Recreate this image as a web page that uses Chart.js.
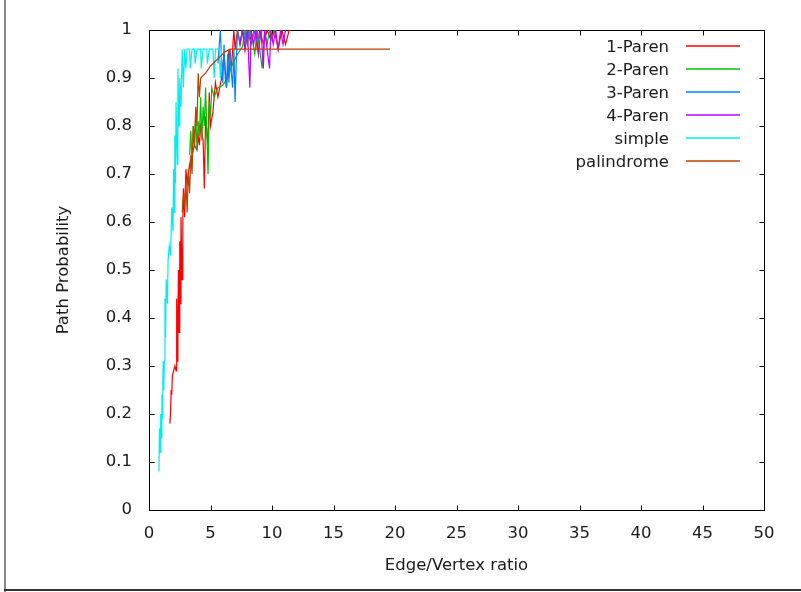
<!DOCTYPE html>
<html>
<head>
<meta charset="utf-8">
<title>Path Probability</title>
<script src="https://cdn.jsdelivr.net/npm/chart.js@4.4.1/dist/chart.umd.min.js"></script>
<style>
  html, body { margin: 0; padding: 0; background: #fff; }
  #wrap { position: relative; width: 801px; height: 592px; }
</style>
</head>
<body>
<div id="wrap"><canvas id="pathChart" width="801" height="592"></canvas></div>
<script>
// Path probability against edge/vertex ratio, one trace per grammar
const seriesNames = ['1-Paren', '2-Paren', '3-Paren', '4-Paren', 'simple', 'palindrome'];
const seriesColors = ['#ff0000', '#00c000', '#0080ff', '#c000ff', '#00eeee', '#c04000'];

// [edge/vertex ratio, probability]
const paren1 = [
  [1.7, 0.18], [1.75, 0.20], [1.8, 0.25], [1.85, 0.24], [1.9, 0.28], [2.0, 0.29], [2.1, 0.30],
  [2.2, 0.29], [2.25, 0.44], [2.3, 0.31], [2.35, 0.40], [2.4, 0.50], [2.45, 0.37], [2.5, 0.56],
  [2.55, 0.43], [2.6, 0.61], [2.7, 0.48], [2.75, 0.60], [2.8, 0.67], [2.9, 0.61], [3.0, 0.71],
  [3.1, 0.68], [3.3, 0.72], [3.5, 0.74], [3.7, 0.76], [3.9, 0.75], [4.0, 0.78], [4.1, 0.76],
  [4.2, 0.80], [4.4, 0.77], [4.5, 0.67], [4.6, 0.82], [4.8, 0.76], [4.9, 0.87], [5.0, 0.80],
  [5.2, 0.83], [5.4, 0.89], [5.6, 0.86], [5.9, 0.90], [6.1, 0.95], [6.3, 0.88], [6.5, 0.96],
  [6.7, 0.92], [6.9, 1.0], [7.0, 0.96], [7.2, 1.0], [7.4, 0.97], [7.6, 1.0], [7.8, 0.96],
  [8.0, 1.0], [8.3, 0.98], [8.6, 1.0], [8.8, 0.96], [9.0, 1.0], [9.3, 0.97], [9.6, 1.0],
  [9.9, 0.98], [10.2, 1.0], [10.5, 0.96], [10.8, 1.0], [11.1, 0.97], [11.4, 1.0], [11.6, 1.0]
];
const paren2 = [
  [3.3, 0.74], [3.4, 0.79], [3.5, 0.72], [3.6, 0.80], [3.7, 0.76], [3.8, 0.83], [3.9, 0.75],
  [4.0, 0.81], [4.1, 0.78], [4.2, 0.86], [4.3, 0.77], [4.4, 0.84], [4.5, 0.80], [4.6, 0.88],
  [4.7, 0.79], [4.8, 0.70], [4.9, 0.85], [5.0, 0.82], [5.1, 0.88], [5.3, 0.86], [5.6, 0.88],
  [6.0, 0.885], [6.4, 0.90], [6.8, 0.93], [7.2, 0.95], [7.6, 0.965], [7.8, 1.0], [8.0, 0.97],
  [8.2, 1.0], [8.4, 0.98], [8.6, 0.95], [8.8, 1.0], [9.0, 0.96], [9.2, 0.92], [9.4, 1.0],
  [9.6, 0.97], [9.8, 1.0], [10.0, 0.98], [10.2, 1.0]
];
const paren3 = [
  [5.6, 0.93], [5.8, 1.0], [5.9, 0.94], [6.0, 0.89], [6.1, 0.97], [6.2, 0.90], [6.3, 0.88],
  [6.4, 0.95], [6.5, 0.89], [6.6, 0.96], [6.7, 0.91], [6.8, 0.88], [6.9, 0.96], [7.0, 0.85],
  [7.1, 0.94], [7.2, 1.0], [7.4, 0.97], [7.6, 1.0], [7.8, 0.98], [8.0, 1.0], [8.3, 0.97],
  [8.6, 1.0], [8.9, 0.98], [9.2, 1.0]
];
const paren4 = [
  [7.4, 0.97], [7.6, 1.0], [7.8, 0.96], [8.0, 1.0], [8.2, 0.88], [8.3, 1.0], [8.5, 0.97],
  [8.7, 1.0], [8.9, 0.95], [9.1, 1.0], [9.3, 0.92], [9.4, 1.0], [9.6, 0.96], [9.8, 0.92],
  [9.9, 1.0], [10.1, 0.97], [10.3, 1.0], [10.5, 0.96], [10.7, 1.0], [10.9, 0.97], [11.1, 1.0]
];
const simple = [
  [0.81, 0.08], [0.85, 0.17], [0.9, 0.12], [0.95, 0.20], [1.0, 0.15], [1.05, 0.24], [1.1, 0.19],
  [1.15, 0.31], [1.2, 0.25], [1.25, 0.31], [1.3, 0.44], [1.35, 0.36], [1.4, 0.48], [1.5, 0.43],
  [1.55, 0.52], [1.65, 0.55], [1.75, 0.53], [1.85, 0.63], [1.95, 0.58], [2.0, 0.71], [2.05, 0.62],
  [2.1, 0.78], [2.15, 0.68], [2.2, 0.85], [2.3, 0.72], [2.35, 0.92], [2.45, 0.80], [2.5, 0.90],
  [2.6, 0.84], [2.7, 0.96], [2.8, 0.88], [2.9, 0.96], [3.0, 0.92], [3.1, 0.96], [3.3, 0.96],
  [3.35, 0.92], [3.5, 0.96], [3.7, 0.96], [3.75, 0.93], [3.9, 0.96], [4.2, 0.96], [4.25, 0.92],
  [4.4, 0.96], [4.7, 0.96], [4.75, 0.93], [4.9, 0.96], [5.2, 0.96], [5.3, 0.90], [5.4, 0.96],
  [5.7, 0.96], [5.8, 0.90], [5.9, 0.96]
];
const palindrome = [
  [2.7, 0.62], [2.8, 0.66], [2.9, 0.63], [3.0, 0.69], [3.1, 0.62], [3.2, 0.71], [3.3, 0.66],
  [3.4, 0.74], [3.5, 0.70], [3.6, 0.80], [3.7, 0.76], [3.8, 0.84], [3.9, 0.80], [4.0, 0.91],
  [4.1, 0.86], [4.2, 0.90], [4.6, 0.91], [5.0, 0.925], [5.4, 0.935], [5.8, 0.945], [6.2, 0.955],
  [6.6, 0.96], [19.6, 0.96]
];
const seriesData = [paren1, paren2, paren3, paren4, simple, palindrome];

const xTicks = [0, 5, 10, 15, 20, 25, 30, 35, 40, 45, 50];
const yTicks = [0, 0.1, 0.2, 0.3, 0.4, 0.5, 0.6, 0.7, 0.8, 0.9, 1];
const yTickLabels = ['0', '0.1', '0.2', '0.3', '0.4', '0.5', '0.6', '0.7', '0.8', '0.9', '1'];

const textColor = '#1a1a1a';
Chart.defaults.font.family = '"DejaVu Sans", sans-serif';
Chart.defaults.font.size = 16.5;
Chart.defaults.color = textColor;

// frame with inward ticks on all four sides, key at top right, page edge lines
const plotDecor = {
  id: 'plotDecor',
  beforeDatasetsDraw(chart) {
    const { ctx, chartArea: a, scales: { x, y } } = chart;
    const l = Math.round(a.left) + 0.5, r = Math.round(a.right) + 0.5;
    const t = Math.round(a.top) + 0.5, b = Math.round(a.bottom) + 0.5;
    ctx.save();
    ctx.strokeStyle = '#000';
    ctx.lineWidth = 1;
    ctx.strokeRect(l, t, r - l, b - t);
    ctx.beginPath();
    xTicks.forEach(v => {
      const px = Math.round(x.getPixelForValue(v)) + 0.5;
      ctx.moveTo(px, b); ctx.lineTo(px, b - 5);
      ctx.moveTo(px, t); ctx.lineTo(px, t + 5);
    });
    yTicks.forEach(v => {
      const py = Math.round(y.getPixelForValue(v)) + 0.5;
      ctx.moveTo(l, py); ctx.lineTo(l + 5, py);
      ctx.moveTo(r, py); ctx.lineTo(r - 5, py);
    });
    ctx.stroke();
    ctx.restore();
  },
  afterDraw(chart) {
    const { ctx } = chart;
    ctx.save();
    ctx.font = '16.5px "DejaVu Sans", sans-serif';
    ctx.textAlign = 'right';
    ctx.textBaseline = 'alphabetic';
    chart.data.datasets.forEach((ds, i) => {
      const rowY = Math.round(46 + i * 22.9);
      ctx.fillStyle = textColor;
      ctx.fillText(ds.label, 669, rowY + 6);
      ctx.strokeStyle = seriesColors[i];
      ctx.lineWidth = 1.5;
      ctx.beginPath();
      ctx.moveTo(686, rowY);
      ctx.lineTo(740, rowY);
      ctx.stroke();
    });
    ctx.fillStyle = '#888';
    ctx.fillRect(4, 0, 2, 592);
    ctx.fillStyle = '#333';
    ctx.fillRect(4, 589, 797, 2);
    ctx.restore();
  }
};

const datasets = seriesNames.map((name, i) => ({
  label: name,
  data: seriesData[i].map(([x, y]) => ({ x, y })),
  borderColor: seriesColors[i],
  backgroundColor: seriesColors[i],
  borderWidth: 1.2,
  pointRadius: 0,
  tension: 0,
  fill: false,
  order: seriesNames.length - i
}));

new Chart(document.getElementById('pathChart'), {
  type: 'line',
  data: { datasets },
  plugins: [plotDecor],
  options: {
    responsive: false,
    animation: false,
    layout: { padding: { left: 0, top: 30, right: 37, bottom: 0 } },
    plugins: { legend: { display: false }, tooltip: { enabled: false } },
    scales: {
      x: {
        type: 'linear',
        min: 0,
        max: 50,
        afterBuildTicks: s => { s.ticks = xTicks.map(v => ({ value: v })); },
        afterFit: s => { s.height = 82; },
        ticks: { padding: 14, color: textColor, maxRotation: 0 },
        grid: { display: false, drawTicks: false },
        border: { display: false },
        title: { display: true, text: 'Edge/Vertex ratio', color: textColor, padding: { top: 0, bottom: 16 } }
      },
      y: {
        type: 'linear',
        min: 0,
        max: 1,
        afterBuildTicks: s => { s.ticks = yTicks.map(v => ({ value: v })); },
        afterFit: s => { s.width = 149; },
        ticks: { padding: 17, color: textColor, callback: (v, i) => yTickLabels[i] },
        grid: { display: false, drawTicks: false },
        border: { display: false },
        title: { display: true, text: 'Path Probability', color: textColor, padding: { top: 54, bottom: 0 } }
      }
    }
  }
});
</script>
</body>
</html>
